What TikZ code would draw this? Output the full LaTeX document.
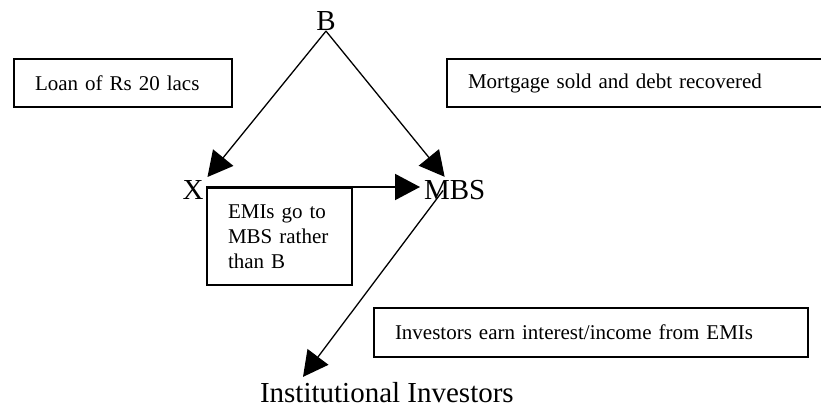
\documentclass[tikz,border=0pt]{standalone}
\usepackage{fontspec}
\setmainfont{Liberation Serif}
\usepackage{tikz}
\usetikzlibrary{arrows.meta}

\begin{document}
\begin{tikzpicture}[x=1pt, y=-1pt,
    lbl/.style={inner sep=0pt, outer sep=0pt, font=\fontsize{29}{34}\selectfont},
    box/.style={draw, line width=2pt, inner xsep=21pt, inner ysep=0pt, align=left, anchor=north west, font=\fontsize{21}{25}\selectfont},
    arr/.style={-{Triangle[length=25pt,width=26pt]}, line width=1.3pt}]

    \useasboundingbox (0,0) rectangle (821,406);
    \clip (0,0) rectangle (821,406);


    \node[box, text width=176pt, minimum height=48pt]   (loan)  at (13, 58)    {Loan of Rs 20 lacs};
    \node[box, text width=360pt, minimum height=48pt]   (sold)  at (446, 58)   {Mortgage sold and debt recovered};
    \node[box, text width=103pt, minimum height=97pt]   (emi)   at (206, 187)  {EMIs go to\\MBS rather\\than B};
    \node[box, text width=392pt, minimum height=49pt]   (earn)  at (373, 307)  {Investors earn interest/income from EMIs};

    \node[lbl, anchor=base]         (B)    at (326, 31)    {B};
    \node[lbl, anchor=base]         (X)    at (193, 200)   {X};
    \node[lbl, anchor=base west]    (MBS)  at (424, 200)   {MBS};
    \node[lbl, anchor=base west]    (inst) at (260, 402)   {Institutional Investors};


    \draw (B.south) edge[arr] ([xshift=4pt,yshift=4pt]X.north east);
    \draw (B.south) edge[arr] ([xshift=-10pt,yshift=4pt]MBS.north);
    \draw (emi.north west) edge[arr, line width=2pt] ([xshift=-4pt]emi.north west -| MBS.west);
    \draw ([xshift=19pt]MBS.west) edge[arr] ([xshift=43pt,yshift=5pt]inst.north west);
  \end{tikzpicture}
\end{document}
